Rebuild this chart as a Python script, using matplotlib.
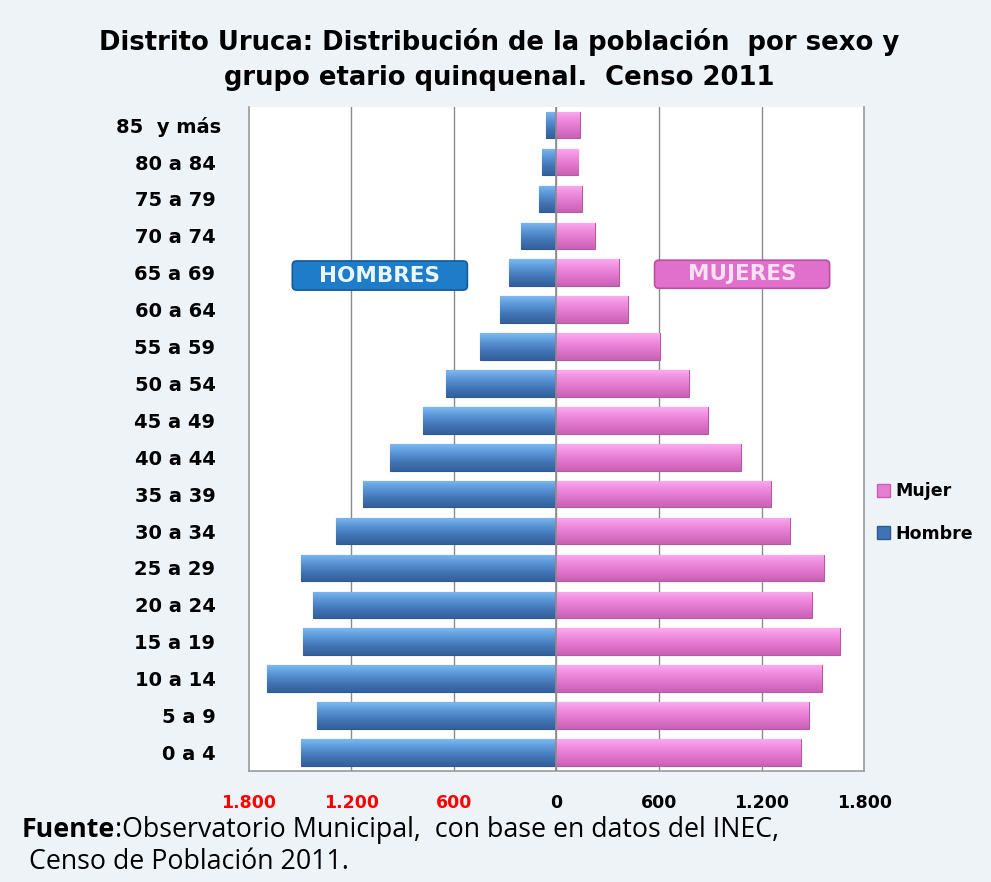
import numpy as np
import matplotlib
matplotlib.use("Agg")
import matplotlib.pyplot as plt
import matplotlib.transforms as mtransforms
from matplotlib.colors import LinearSegmentedColormap
from matplotlib.patches import Patch, FancyBboxPatch

grupos = ["0 a 4", "5 a 9", "10 a 14", "15 a 19", "20 a 24", "25 a 29",
          "30 a 34", "35 a 39", "40 a 44", "45 a 49", "50 a 54", "55 a 59",
          "60 a 64", "65 a 69", "70 a 74", "75 a 79", "80 a 84", "85  y más"]
hombre = [1493, 1399, 1692, 1481, 1422, 1493, 1288, 1130, 972, 779, 644,
          445, 328, 275, 205, 100, 82, 59]
mujer = [1428, 1475, 1551, 1657, 1493, 1563, 1364, 1253, 1077, 884, 773,
         603, 421, 363, 228, 152, 129, 140]
ticks = [-1800, -1200, -600, 0, 600, 1200, 1800]
tick_labels = ["1.800", "1.200", "600", "0", "600", "1.200", "1.800"]

plt.rcParams['font.family'] = ['DejaVu Sans']
foot_font = ['Open Sans', 'DejaVu Sans']

fig = plt.figure(figsize=(9.91, 8.82), dpi=100)
fig.patch.set_facecolor('#eef3f8')
ax = fig.add_axes([0.251, 0.126, 0.621, 0.753])
ax.set_facecolor('white')

y = np.arange(len(grupos))
h = 0.72
bars_h = ax.barh(y, -np.array(hombre), height=h, color='#4a7fc0',
                 edgecolor='#2e5a92', linewidth=0.8, zorder=3)
bars_m = ax.barh(y, mujer, height=h, color='#e67fd2',
                 edgecolor='#b35aa3', linewidth=0.8, zorder=3)

# vertical shading to mimic the glossy bars
cmap_h = LinearSegmentedColormap.from_list('h', ['#7cb8f0', '#5a95d6', '#4275b6', '#34609c'])
cmap_m = LinearSegmentedColormap.from_list('m', ['#fcaaf2', '#ee8adc', '#df74cb', '#c862b4'])
grad = np.linspace(0, 1, 64).reshape(-1, 1)
for bars, cmap in [(bars_h, cmap_h), (bars_m, cmap_m)]:
    for b in bars:
        x0, y0 = b.get_x(), b.get_y()
        w, hh = b.get_width(), b.get_height()
        im = ax.imshow(grad, cmap=cmap, aspect='auto', zorder=3.5,
                       extent=[x0, x0 + w, y0, y0 + hh], interpolation='bicubic')
        im.set_clip_path(b)

ax.set_xlim(-1800, 1800)
ax.set_ylim(-0.5, len(grupos) - 0.5)
ax.set_xticks(ticks)
ax.set_xticklabels(tick_labels, fontsize=12.5, fontweight='bold')
for lab, v in zip(ax.get_xticklabels(), ticks):
    lab.set_color('red' if v < 0 else 'black')
ax.tick_params(axis='x', length=0, pad=17)
ax.set_yticks(y)
ax.set_yticklabels(grupos, fontsize=14, fontweight='bold')
ax.tick_params(axis='y', length=0, pad=24)
# the top label sits a little further right in the original
last = ax.get_yticklabels()[-1]
last.set_transform(last.get_transform() +
                   mtransforms.ScaledTranslation(6 / 100, 0, fig.dpi_scale_trans))

for v in ticks[1:-1]:
    ax.axvline(v, color='#8a8a8a', linewidth=1.0, zorder=1)
ax.axvline(0, color='#8c8c8c', linewidth=1.2, zorder=4)
for s in ['left', 'right', 'bottom']:
    ax.spines[s].set_color('#9a9a9a')
    ax.spines[s].set_linewidth(1.2)
ax.spines['top'].set_visible(False)

# labelled boxes HOMBRES / MUJERES
asp = (1 / 36.8) / (600 / 102.5)
for (xa, xb, ya, yb, fc, ec, tc, txt) in [
        (-1545, -521, 12.53, 13.32, '#1f7cc8', '#145a96', '#eaf6ff', "HOMBRES"),
        (574, 1598, 12.58, 13.34, '#e070cc', '#b9509f', '#f6e2f2', "MUJERES")]:
    box = FancyBboxPatch((xa, ya), xb - xa, yb - ya,
                         boxstyle='round,pad=0,rounding_size=25',
                         mutation_aspect=asp, fc=fc, ec=ec, lw=1.2, zorder=5)
    ax.add_patch(box)
    ax.text((xa + xb) / 2, (ya + yb) / 2, txt, ha='center', va='center',
            fontsize=15.5, fontweight='bold', color=tc, zorder=6)

handles = [Patch(facecolor='#e67fd2', edgecolor='#c660b2', label='Mujer'),
           Patch(facecolor='#3f73b4', edgecolor='#2e5a92', label='Hombre')]
fig.legend(handles=handles, loc='center left', bbox_to_anchor=(0.885, 0.419),
           frameon=False, prop={'weight': 'bold', 'size': 12.5},
           handlelength=0.75, handleheight=0.75, handletextpad=0.3,
           labelspacing=1.4, borderaxespad=0, borderpad=0)


def fit(t, width_px):
    # scale a text's font size so that it spans about width_px
    fig.canvas.draw()
    w = t.get_window_extent().width
    t.set_fontsize(t.get_fontsize() * width_px / w)


t_a = fig.text(0.504, 0.952, "Distrito Uruca: Distribución de la población  por sexo y",
               ha='center', va='center', fontsize=18, fontweight='bold')
t_b = fig.text(0.504, 0.911, "grupo etario quinquenal.  Censo 2011",
               ha='center', va='center', fontsize=18, fontweight='bold')
fit(t_a, 804)
t_b.set_fontsize(t_a.get_fontsize())

t1 = fig.text(0.022, 0.059, "Fuente", fontsize=19, fontweight='bold',
              va='center', family=foot_font)
t2 = fig.text(0.1, 0.059, ":Observatorio Municipal,  con base en datos del INEC,",
              fontsize=19, va='center', family=foot_font)
fig.canvas.draw()
total = t1.get_window_extent().width + t2.get_window_extent().width
scale = 756 / total
t1.set_fontsize(19 * scale)
t2.set_fontsize(19 * scale)
fig.canvas.draw()
t2.set_x(t1.get_window_extent().x1 / fig.bbox.width)
fig.text(0.022, 0.023, " Censo de Población 2011.", fontsize=19 * scale,
         va='center', family=foot_font)

fig.savefig("out.png", dpi=100, facecolor=fig.get_facecolor())
